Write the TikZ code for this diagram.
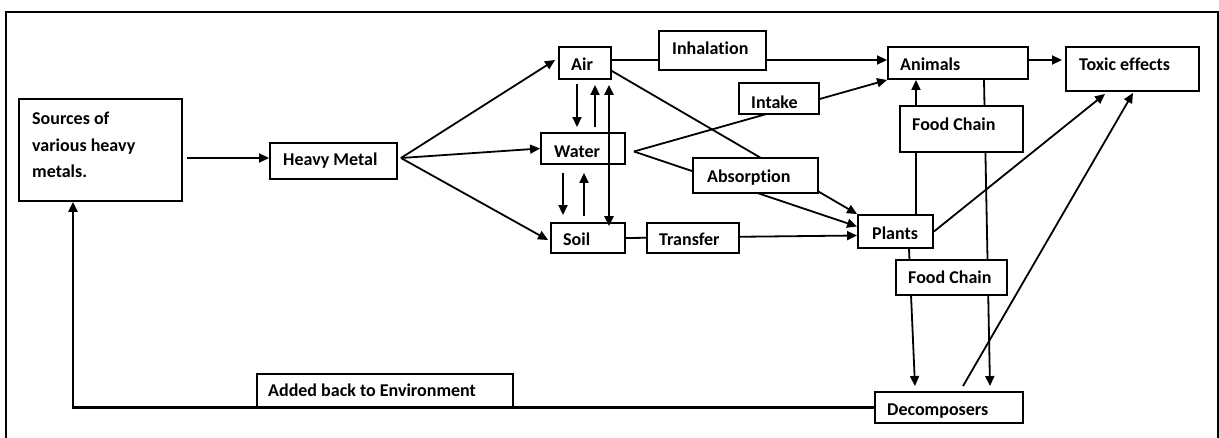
\documentclass[tikz,border=0pt]{standalone}
\usepackage{fontspec}
\setmainfont{Carlito}[Ligatures=NoCommon]
\usetikzlibrary{arrows.meta,fit,calc}
\pgfdeclarelayer{bg}
\pgfsetlayers{bg,main}
\newcommand\mybox[5]{\node[box, fit={(#2,#3)(#4,#5)}] (#1) {};}
\begin{document}
\begin{tikzpicture}[x=1pt,y=-1pt,
  box/.style={draw, line width=1.9pt, fill=white, inner sep=0pt},
  txt/.style={font=\fontsize{18}{26.5}\selectfont\bfseries, inner sep=0pt, anchor=base west},
  conn/.style={line width=1.8pt, -{Triangle[length=10pt,width=9pt]}},
  dconn/.style={line width=2.4pt, {Triangle[length=10pt,width=9pt]}-{Triangle[length=10pt,width=9pt]}}]
\useasboundingbox (0,0) rectangle (1219,437);
\clip (0,0) rectangle (1219,437);
\draw[line width=1.8pt] (6,12) rectangle (1218,450);
% boxes
\mybox{src}{19}{99}{182}{201}
\mybox{hm}{270}{143}{397}{179}
\mybox{air}{559}{47}{611}{79}
\mybox{inh}{659}{31}{766}{70}
\mybox{intake}{739}{83}{819}{114}
\mybox{water}{541}{133}{625}{164}
\mybox{absorp}{693}{158}{818}{193}
\mybox{soil}{551}{223}{625}{253}
\mybox{transfer}{647}{223}{739}{253}
\mybox{animals}{888}{47}{1028}{79}
\mybox{toxic}{1066}{47}{1199}{91}
\mybox{fcA}{900}{106}{1023}{152}
\mybox{plants}{858}{215}{933}{248}
\mybox{fcB}{896}{260}{1007}{295}
\mybox{dec}{875}{392}{1023}{423}
\mybox{added}{257}{374}{513}{407}
% texts
\node[txt, anchor=west, align=left] (srct) at (32,145) {Sources of\\various heavy\\metals.};
\node[txt] (hmt) at (283,165) {Heavy Metal};
\node[txt] (airt) at (571,70) {Air};
\node[txt] (inht) at (672,54) {Inhalation};
\node[txt] (intaket) at (751,108) {Intake};
\node[txt] (watert) at (554,157) {Water};
\node[txt] (absorpt) at (707,182) {Absorption};
\node[txt] (soilt) at (563,245) {Soil};
\node[txt] (transfert) at (659,245) {Transfer};
\node[txt] (animalst) at (900,70) {Animals};
\node[txt] (toxict) at (1079,70) {Toxic effects};
\node[txt] (fcAt) at (912,130) {Food Chain};
\node[txt] (plantst) at (872,239) {Plants};
\node[txt] (fcBt) at (908,283) {Food Chain};
\node[txt] (dect) at (887,415) {Decomposers};
\node[txt] (addedt) at (268,396) {Added back to Environment};
% connectors behind label boxes
\begin{pgfonlayer}{bg}
\draw[conn] ([shift={(4,8)}]src.east) -- ([shift={(0,-3)}]hm.west);
\draw[conn] ([shift={(3,-3)}]hm.east) -- ([shift={(-3,-3)}]air.west);
\draw[conn] ([shift={(3,-3)}]hm.east) -- (water.west);
\draw[conn] ([shift={(3,-3)}]hm.east) -- ([shift={(-2,2)}]soil.west);
\draw[conn] ([shift={(0,-3)}]air.east) -- ([shift={(0,-3)}]animals.west);
\draw[conn] ([shift={(0,8)}]air.east) -- (plants.north west);
\draw[conn] ([shift={(8,3)}]water.east) -- (animals.south west);
\draw[conn] ([shift={(8,3)}]water.east) -- ([shift={(0,-5)}]plants.west);
\draw[conn] (soil.east) -- ([shift={(0,4)}]plants.west);
\draw[conn] ([shift={(0,-3)}]animals.east) -- ([shift={(-3,-9)}]toxic.west);
\draw[conn] ([shift={(20.5,0)}]plants.north) -- ([shift={(-42,0)}]animals.south);
\draw[conn] ([shift={(26,0)}]animals.south) -- ([shift={(41,-5)}]dec.north);
\draw[conn] ([shift={(13.5,0)}]plants.south) -- ([shift={(-34,-5)}]dec.north);
\draw[conn] (plants.east) -- ([shift={(-27.5,2)}]toxic.south);
\draw[conn] ([shift={(14,-5)}]dec.north) -- ([shift={(0.5,1)}]toxic.south);
\draw[conn, line width=2.3pt] (dec.west) -| ([shift={(-27.5,0)}]src.south);
\end{pgfonlayer}
% exchange arrows
\draw[conn] ([shift={(-8,4)}]air.south) -- ([shift={(-6,-5)}]water.north);
\draw[conn] ([shift={(12,-5)}]water.north) -- ([shift={(10,5)}]air.south);
\draw[conn] ([shift={(-20,8)}]water.south) -- ([shift={(-25,-7)}]soil.north);
\draw[conn] ([shift={(-4,-6)}]soil.north) -- ([shift={(1,8)}]water.south);
\draw[dconn] ([shift={(24,5)}]air.south) -- ([shift={(21,4)}]soil.north);
\end{tikzpicture}
\end{document}
